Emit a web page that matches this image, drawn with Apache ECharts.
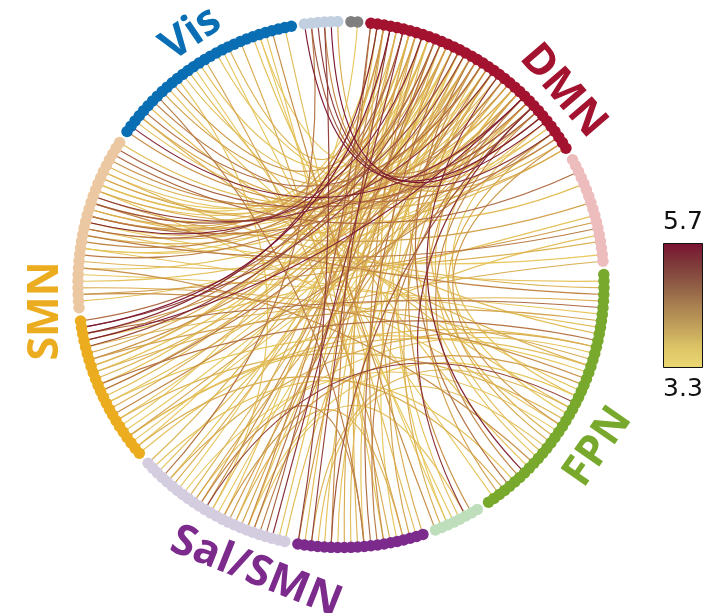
<!DOCTYPE html>
<html>
<head>
<meta charset="utf-8">
<script src="https://cdn.jsdelivr.net/npm/echarts@6/dist/echarts.min.js"></script>
<style>
  html, body { margin: 0; padding: 0; background: #ffffff; }
  #chart { width: 723px; height: 613px; }
</style>
</head>
<body>
<div id="chart"></div>
<script>
// Networks around the ring, clockwise, starting with FPN on the right-hand side.
const networkKeys  = ['F', 'G', 'S', 'L', 'O', 'P', 'V', 'B', 'K', 'D', 'R'];
const networkSizes = [41, 8, 20, 25, 23, 27, 31, 6, 2, 37, 17];
const networkColors = ['#78a92d', '#bfdfbc', '#7c2b8d', '#d4cde0', '#ebad1f', '#ecc8a2',
                       '#0a6eb4', '#c2cfe0', '#7f7f7f', '#a3132f', '#edbdbe'];

// Connection strength scale
const scaleMin = 3.3;
const scaleMax = 5.7;
const scaleLabels = ['5.7', '3.3'];
const barStops  = ['#ecd872', '#dcc466', '#c1a05a', '#a98050', '#8f5c45', '#7d3939', '#7a1232'];
const lineStops = ['#ecd064', '#e2bd58', '#cf9a4a', '#b57444', '#974a3b', '#832735', '#7a1232'];

// Connections: [node, node, strength]
const dmnToSmnUpper = [
  ['D2','P14',4.1],['D4','P16',3.7],['D5','P12',4.6],['D6','P20',3.5],['D7','P15',3.9],
  ['D8','P13',5.4],['D9','P18',3.6],['D10','P10',4.3],['D11','P22',3.8],['D12','P14',4.0],
  ['D13','P9',3.5],['D14','P16',4.8],['D15','P19',3.7],['D16','P12',3.9],['D17','P8',4.4],
  ['D18','P21',3.6],['D19','P15',3.4],['D20','P17',5.1],['D21','P11',3.8],['D22','P13',3.6],
  ['D23','P23',4.2],['D24','P9',3.5],['D26','P18',3.9],['D27','P14',4.5],['D28','P26',3.7],
  ['D30','P20',4.0],['D32','P1',3.6],['D1','P19',3.5],['D29','P25',4.7],['D34','P4',3.6],
  ['D36','P15',3.8],['D25','P6',3.6]
];
const dmnToSmnLower = [
  ['D1','O20',5.3],['D3','O21',5.6],['D5','O19',4.4],['D6','O15',3.8],['D8','O17',4.0],
  ['D9','O12',3.6],['D11','O18',4.9],['D12','O10',3.7],['D14','O14',3.5],['D15','O21',5.0],
  ['D16','O8',3.9],['D18','O16',4.2],['D19','O6',3.6],['D20','O13',3.8],['D22','O11',4.5],
  ['D23','O4',3.5],['D25','O20',4.1],['D27','O9',3.7],['D29','O3',4.0],['D31','O2',3.6],
  ['D33','O7',4.3],['D2','O15',3.7],['D10','O22',4.6],['D13','O1',3.5],['D17','O11',3.9],
  ['D26','O19',5.5]
];
const dmnToSal = [
  ['D0','L3',4.7],['D1','L10',3.6],['D2','L6',4.2],['D4','L14',3.9],['D5','L2',5.2],
  ['D7','L8',3.8],['D8','L18',3.5],['D10','L5',4.5],['D12','L12',3.7],['D13','L20',3.6],
  ['D15','L7',4.0],['D17','L16',3.8],['D19','L4',4.4],['D21','L11',3.5],['D23','L22',3.7],
  ['D25','L9',4.1],['D6','L1',3.6],['D9','L24',3.8],['D11','L13',4.2],['D14','L6',3.5],
  ['D16','L19',3.9],['D20','L0',3.7],['D27','L15',4.0],
  ['D0','S14',4.3],['D2','S10',3.8],['D3','S17',5.0],['D6','S12',3.9],['D8','S6',4.2],
  ['D10','S15',3.6],['D13','S8',4.6],['D16','S4',3.5],['D18','S11',3.7],['D20','S2',4.0],
  ['D24','S13',3.6],['D26','S7',4.4],['D4','S18',3.7],['D7','S0',3.9],['D12','S19',4.1],
  ['D15','S9',3.6],['D28','S14',4.8],
  ['D9','G3',3.7],['D14','G5',3.5],['D17','G1',4.2],['D22','G6',3.9],['D28','G2',5.2]
];
const dmnToFpn = [
  ['D11','F30',3.6],['D16','F36',4.5],['D19','F26',3.8],['D21','F33',5.3],['D24','F29',3.7],
  ['D25','F38',4.0],['D27','F22',3.5],['D29','F34',4.3],['D31','F19',3.6],['D33','F27',3.9],
  ['D35','F24',4.1]
];
const dmnToVis = [
  ['D3','V20',3.8],['D7','V10',4.1],['D12','V15',3.6],['D18','V4',4.6],['D20','V25',3.5],
  ['D24','V8',4.0],['D26','V1',5.4],['D29','V12',3.7],['D30','V0',4.2],['D32','V18',3.6],
  ['D34','V6',4.4],['D36','V3',3.9],
  ['B0','D30',5.5],['B1','D28',4.8],['B2','D33',5.1],['B3','D26',4.3],['B4','D31',5.6],
  ['B5','D35',3.9],['B1','L21',4.5],['B3','S19',5.0],['K1','O5',3.5]
];
const fpnToOthers = [
  ['R2','P24',4.6],['R4','V2',3.7],['R7','P17',4.0],['R9','O19',3.6],['R11','P11',4.4],
  ['R13','P7',3.8],['R15','P13',3.5],['R16','O14',3.9],
  ['F1','P12',3.6],['F3','P16',4.3],['F4','O18',3.8],['F6','P5',3.5],['F7','O16',4.0],
  ['F9','V5',3.7],['F10','O12',4.5],['F12','L15',3.6],['F13','P3',3.9],['F15','O9',3.5],
  ['F17','L10',4.1],['F18','V9',3.6],['F20','L13',5.0],['F23','O6',3.8],['F25','L17',3.5],
  ['F28','S16',3.7],['F31','P6',4.2],['F35','L23',3.6],['F37','O1',3.9],['F39','V14',3.5],
  ['F2','P21',3.8],['F5','O20',4.6],['F8','P9',3.6],['F11','L20',3.9],['F14','O3',3.7],
  ['F16','P2',4.2],['F19','L6',3.5],['F21','S17',3.8],['F24','P18',3.6]
];
const visToOthers = [
  ['V3','F14',3.8],['V7','S9',4.4],['V11','L12',3.6],['V13','F21',3.7],['V16','S3',4.0],
  ['V19','G4',3.5],['V22','S5',3.9],['V24','F32',3.6],['V27','G7',4.2],['V29','S1',3.7],
  ['V25','G5',3.5],['V26','S6',3.6],
  ['O0','R12',3.6],['P2','R10',4.1],['O3','F11',3.7],
  ['L8','S3',3.8],['L14','S9',4.3],['L5','G2',3.6]
];

// ---- colour lookup along the strength scale
function hexToRgb(h) {
  return [parseInt(h.slice(1, 3), 16), parseInt(h.slice(3, 5), 16), parseInt(h.slice(5, 7), 16)];
}
function strengthColor(v, stops) {
  let t = (v - scaleMin) / (scaleMax - scaleMin);
  t = Math.max(0, Math.min(1, t)) * (stops.length - 1);
  const i = Math.min(Math.floor(t), stops.length - 2);
  const f = t - i;
  const a = hexToRgb(stops[i]), b = hexToRgb(stops[i + 1]);
  const c = a.map((x, k) => Math.round(x + (b[k] - x) * f));
  return 'rgb(' + c.join(',') + ')';
}

// ---- ring nodes: each network followed by one empty slot
const slots = [];
networkKeys.forEach((key, gi) => {
  for (let i = 0; i < networkSizes[gi]; i++) {
    slots.push({ name: key + i, itemStyle: { color: networkColors[gi] } });
  }
  slots.push({ name: 'gap-' + key, itemStyle: { color: '#ffffff', opacity: 0 } });
});
// the ring is laid out from 3 o'clock; the first two FPN nodes sit just above it
const ringStart = 2;
const nodes = slots.slice(ringStart).concat(slots.slice(0, ringStart));

const allEdges = [].concat(dmnToSmnUpper, dmnToSmnLower, dmnToSal, dmnToFpn, dmnToVis, fpnToOthers, visToOthers)
  .slice().sort((a, b) => a[2] - b[2]);
const links = allEdges.map(e => ({
  source: e[0], target: e[1], value: e[2],
  lineStyle: { color: strengthColor(e[2], lineStops) }
}));

// ---- network labels
const labelFont = 'bold 43px "Open Sans", "DejaVu Sans", sans-serif';
const networkLabels = [
  { text: 'Vis',     x: 191, y: 34,  rot: 0.60,  color: '#0a6eb4' },
  { text: 'DMN',     x: 563, y: 91,  rot: -0.86, color: '#a3132f' },
  { text: 'FPN',     x: 598, y: 447, rot: 0.96,  color: '#78a92d' },
  { text: 'Sal/SMN', x: 256, y: 572, rot: -0.38, color: '#7c2b8d' },
  { text: 'SMN',     x: 46,  y: 311, rot: Math.PI / 2, color: '#ebad1f' }
];

const graphics = networkLabels.map(l => ({
  type: 'text', x: l.x, y: l.y, rotation: l.rot, silent: true,
  style: { text: l.text, font: labelFont, fill: l.color, align: 'center', verticalAlign: 'middle' }
}));

// ---- colour bar
graphics.push({
  type: 'rect', silent: true,
  shape: { x: 663.5, y: 243.5, width: 39, height: 124 },
  style: {
    fill: new echarts.graphic.LinearGradient(0, 0, 0, 1,
      barStops.slice().reverse().map((c, i, arr) => ({ offset: i / (arr.length - 1), color: c }))),
    stroke: '#111111', lineWidth: 1
  }
});
graphics.push({
  type: 'text', x: 683, y: 222, silent: true,
  style: { text: scaleLabels[0], font: '25px "DejaVu Sans", sans-serif', fill: '#111111', align: 'center', verticalAlign: 'middle' }
});
graphics.push({
  type: 'text', x: 683, y: 389, silent: true,
  style: { text: scaleLabels[1], font: '25px "DejaVu Sans", sans-serif', fill: '#111111', align: 'center', verticalAlign: 'middle' }
});

const chart = echarts.init(document.getElementById('chart'), null, { renderer: 'canvas' });
chart.setOption({
  backgroundColor: '#ffffff',
  animation: false,
  tooltip: { show: false },
  graphic: graphics,
  series: [{
    type: 'graph',
    layout: 'circular',
    left: 78, top: 21.5, width: 526, height: 526,
    silent: true,
    symbol: 'circle',
    symbolSize: 11.5,
    label: { show: false },
    edgeSymbol: ['none', 'none'],
    itemStyle: { borderWidth: 0 },
    lineStyle: { width: 1.15, opacity: 1, curveness: 0.33 },
    emphasis: { disabled: true },
    data: nodes,
    links: links
  }]
});
</script>
</body>
</html>
